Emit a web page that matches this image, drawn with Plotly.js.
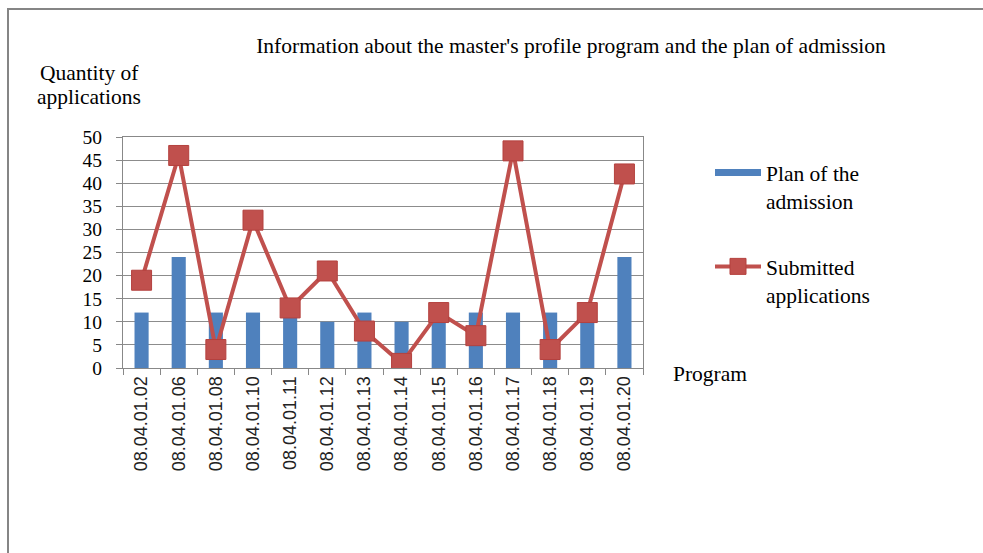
<!DOCTYPE html>
<html>
<head>
<meta charset="utf-8">
<script src="https://cdn.plot.ly/plotly-3.0.1.min.js"></script>
<style>
html,body{margin:0;padding:0;background:#fff;}
#frame{position:absolute;left:7px;top:8px;width:990px;height:600px;border-top:2px solid #858585;border-left:2px solid #858585;}
#chart{position:absolute;left:0;top:0;width:983px;height:553px;}
</style>
</head>
<body>
<div id="frame"></div>
<div id="chart"></div>
<script>
const programs = ["08.04.01.02","08.04.01.06","08.04.01.08","08.04.01.10","08.04.01.11","08.04.01.12","08.04.01.13","08.04.01.14","08.04.01.15","08.04.01.16","08.04.01.17","08.04.01.18","08.04.01.19","08.04.01.20"];
const planAdmission = [12,24,12,12,12,10,12,10,12,12,12,12,12,24];
const submittedApplications = [19,46,4,32,13,21,8,1,12,7,47,4,12,42];
const yTicks = [0,5,10,15,20,25,30,35,40,45,50];

const serif = "Liberation Serif, Times New Roman, serif";
const blue = "#4F81BD";
const red = "#C0504D";

const L = 123, R = 643, T = 137, B = 368, W = 983, H = 553;
function px(x){return (x - L)/(R - L);}
function py(y){return (B - y)/(B - T);}

const traces = [
  {type:"bar", x:programs, y:planAdmission, name:"Plan of the<br>admission", marker:{color:blue}, width:0.38, showlegend:false, hoverinfo:"x+y"},
  {type:"scatter", mode:"lines", x:[programs[0]], y:[null], name:"Plan of the<br>admission", line:{color:blue, width:7}, legendgroup:"a", showlegend:true},
  {type:"scatter", mode:"lines+markers", x:programs, y:submittedApplications, name:"Submitted<br>applications", legendgroup:"b",
   line:{color:red, width:4}, marker:{symbol:"square", size:20, color:red, line:{color:"#B4413E", width:1}}}
];

const layout = {
  width:W, height:H,
  margin:{l:L, r:W-R, t:T, b:H-B, pad:0},
  paper_bgcolor:"rgba(0,0,0,0)", plot_bgcolor:"#fff",
  showlegend:true,
  title:{text:"Information about the master's profile program and the plan of admission", font:{family:serif, size:21.5, color:"#000"},
    x:571/W, xref:"container", xanchor:"center", y:1-45/H, yref:"container", yanchor:"middle"},
  xaxis:{type:"category", range:[-0.5, 13.5], showline:true, linecolor:"#888", linewidth:1, mirror:true, ticks:"outside", tickson:"boundaries", ticklen:6, tickcolor:"#888",
    tickangle:-90, tickfont:{family:"Liberation Sans, Arial, sans-serif", size:18, color:"#222"}, showgrid:false, fixedrange:true},
  yaxis:{range:[0,50], tickvals:yTicks, showline:true, linecolor:"#888", linewidth:1, mirror:true, ticks:"outside", ticklen:6, tickcolor:"#888",
    ticklabelstandoff:10,
    showgrid:true, gridcolor:"#8c8c8c", gridwidth:1, zeroline:false, tickfont:{family:serif, size:19.5, color:"#000"}, fixedrange:true},
  legend:{x:px(710), xanchor:"left", y:py(152), yanchor:"top", valign:"top", font:{family:serif, size:21.5, color:"#000"}, traceorder:"grouped", tracegroupgap:35, itemwidth:46, bgcolor:"rgba(0,0,0,0)"},
  annotations:[
    {text:"Quantity of", xref:"paper", yref:"paper", x:px(89), y:py(73), xanchor:"center", yanchor:"middle", showarrow:false, font:{family:serif, size:21.5, color:"#000"}},
    {text:"applications", xref:"paper", yref:"paper", x:px(89), y:py(97), xanchor:"center", yanchor:"middle", showarrow:false, font:{family:serif, size:21.5, color:"#000"}},
    {text:"Program", xref:"paper", yref:"paper", x:px(671), y:py(374), xanchor:"left", yanchor:"middle", showarrow:false, font:{family:serif, size:21.5, color:"#000"}}
  ]
};

Plotly.newPlot("chart", traces, layout, {displayModeBar:false, staticPlot:true});
</script>
</body>
</html>
